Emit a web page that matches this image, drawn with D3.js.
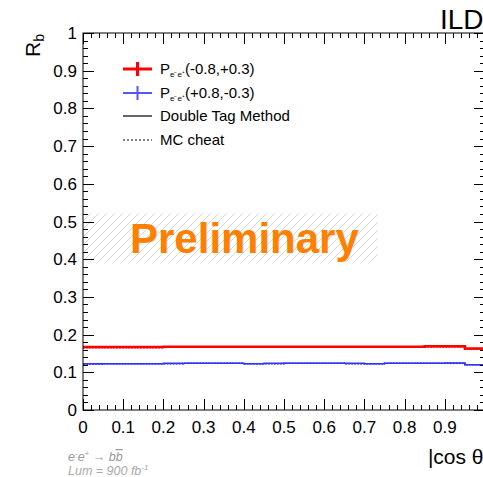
<!DOCTYPE html>
<html>
<head>
<meta charset="utf-8">
<script src="https://cdn.jsdelivr.net/npm/d3@7/dist/d3.min.js"></script>
<style>
  html, body { margin: 0; padding: 0; background: #fff; }
  svg { display: block; font-family: "Liberation Sans", Arial, Helvetica, sans-serif; }
</style>
</head>
<body>
<svg id="chart" width="483" height="477"></svg>
<script>
// Bin edges in |cos theta| (20 bins of width 0.05)
const binEdges = [0,0.05,0.1,0.15,0.2,0.25,0.3,0.35,0.4,0.45,0.5,0.55,0.6,0.65,0.7,0.75,0.8,0.85,0.9,0.95,1.0];

// R_b per bin, P(-0.8,+0.3)
const redDoubleTag = [0.167,0.167,0.167,0.167,0.168,0.168,0.168,0.168,0.168,0.168,0.168,0.168,0.168,0.168,0.168,0.168,0.168,0.169,0.169,0.163];
const redMCCheat   = [0.166,0.166,0.166,0.166,0.167,0.167,0.167,0.167,0.167,0.167,0.167,0.167,0.167,0.167,0.167,0.167,0.167,0.168,0.168,0.162];

// R_b per bin, P(+0.8,-0.3)
const blueDoubleTag = [0.123,0.123,0.123,0.123,0.124,0.124,0.124,0.124,0.123,0.124,0.124,0.124,0.124,0.124,0.123,0.124,0.124,0.124,0.125,0.120];
const blueMCCheat   = [0.122,0.123,0.123,0.123,0.123,0.124,0.124,0.124,0.123,0.123,0.124,0.124,0.124,0.123,0.123,0.124,0.124,0.124,0.124,0.120];

const xMajorTicks = [0,0.1,0.2,0.3,0.4,0.5,0.6,0.7,0.8,0.9];
const yMajorTicks = [0,0.1,0.2,0.3,0.4,0.5,0.6,0.7,0.8,0.9,1];

const legendLabels = ["(-0.8,+0.3)", "(+0.8,-0.3)", "Double Tag Method", "MC cheat"];

// Hatched band behind the "Preliminary" stamp (data coords)
const bandX = [0, 0.734];
const bandY = [0.393, 0.522];

const svg = d3.select("#chart");
const plot = { left: 83, right: 485, top: 33, bottom: 410 };

const x = d3.scaleLinear().domain([0, 1]).range([plot.left, plot.right]);
const y = d3.scaleLinear().domain([0, 1]).range([plot.bottom, plot.top]);

// hatch pattern
const defs = svg.append("defs");
const pat = defs.append("pattern")
  .attr("id", "hatch").attr("patternUnits", "userSpaceOnUse")
  .attr("width", 8).attr("height", 8);
pat.append("path").attr("d", "M-2,2 l4,-4 M0,8 l8,-8 M6,10 l4,-4")
  .attr("stroke", "#d9d9d9").attr("stroke-width", 1);

svg.append("rect")
  .attr("x", x(bandX[0])).attr("y", y(bandY[1]))
  .attr("width", x(bandX[1]) - x(bandX[0]))
  .attr("height", y(bandY[0]) - y(bandY[1]))
  .attr("fill", "url(#hatch)");

svg.append("text")
  .attr("x", 130).attr("y", 253)
  .attr("font-size", 42).attr("font-weight", "bold")
  .attr("fill", "#ff8000")
  .text("Preliminary");

// step histogram line
function stepData(vals) {
  const pts = [];
  vals.forEach((v, i) => { pts.push([binEdges[i], v]); pts.push([binEdges[i + 1], v]); });
  return pts;
}
const line = d3.line().x(d => x(d[0])).y(d => y(d[1]));

function drawHist(vals, color, width, dash) {
  svg.append("path").datum(stepData(vals))
    .attr("d", line).attr("fill", "none")
    .attr("stroke", color).attr("stroke-width", width)
    .attr("stroke-dasharray", dash || null);
}
drawHist(redMCCheat, "#ff0000", 2, "2,1");
drawHist(redDoubleTag, "#ff0000", 2.5);
drawHist(blueMCCheat, "#0000ff", 1.5, "2,1");
drawHist(blueDoubleTag, "#3333ff", 1.5);

// frame
svg.append("rect")
  .attr("x", plot.left).attr("y", plot.top)
  .attr("width", plot.right - plot.left).attr("height", plot.bottom - plot.top)
  .attr("fill", "none").attr("stroke", "#000").attr("stroke-width", 1);

// ticks
const majorLen = 11, minorLen = 5;
const minorX = d3.range(0, 51).map(i => i * 0.02);
const gT = svg.append("g").attr("stroke", "#000").attr("stroke-width", 1);
minorX.forEach((v, i) => {
  const len = (i % 5 === 0) ? majorLen : minorLen;
  const px = Math.round(x(v)) + 0.5;
  gT.append("line").attr("x1", px).attr("x2", px).attr("y1", plot.bottom).attr("y2", plot.bottom - len);
  gT.append("line").attr("x1", px).attr("x2", px).attr("y1", plot.top).attr("y2", plot.top + len);
  const py = Math.round(y(v)) + 0.5;
  gT.append("line").attr("y1", py).attr("y2", py).attr("x1", plot.left).attr("x2", plot.left + len);
  gT.append("line").attr("y1", py).attr("y2", py).attr("x1", plot.right).attr("x2", plot.right - len);
});

// tick labels
svg.append("g").selectAll("text").data(yMajorTicks).join("text")
  .attr("x", 77).attr("y", d => y(d) + 6)
  .attr("text-anchor", "end").attr("font-size", 17).attr("fill", "#000")
  .text(d => d3.format("~g")(d));
svg.append("g").selectAll("text").data(xMajorTicks).join("text")
  .attr("x", d => x(d)).attr("y", 433)
  .attr("text-anchor", "middle").attr("font-size", 17).attr("fill", "#000")
  .text(d => d3.format("~g")(d));

// axis titles
svg.append("text")
  .attr("x", 489).attr("y", 464).attr("text-anchor", "end")
  .attr("font-size", 21).text("|cos θ|");

const yt = svg.append("text")
  .attr("transform", "translate(40,34) rotate(-90)")
  .attr("text-anchor", "end").attr("font-size", 21);
yt.append("tspan").text("R");
yt.append("tspan").attr("font-size", 14).attr("dy", 4).text("b");

svg.append("text").attr("x", 440).attr("y", 29).attr("font-size", 28).text("ILD");

// legend
const lg = svg.append("g");
const lx0 = 123, lx1 = 152, tx = 160;
const rows = [69, 93, 116, 140];
[["#ff0000", 3], ["#5555ff", 2]].forEach(([c, w], i) => {
  const cy = rows[i];
  lg.append("line").attr("x1", lx0).attr("x2", lx1).attr("y1", cy).attr("y2", cy).attr("stroke", c).attr("stroke-width", w);
  lg.append("line").attr("x1", (lx0 + lx1) / 2).attr("x2", (lx0 + lx1) / 2).attr("y1", cy - 7).attr("y2", cy + 7).attr("stroke", c).attr("stroke-width", w);
  const t = lg.append("text").attr("x", tx).attr("y", cy + 5).attr("font-size", 15);
  t.append("tspan").text("P");
  t.append("tspan").attr("font-size", 8).attr("dy", 3).text("e⁻e⁺");
  t.append("tspan").attr("dy", -3).text(legendLabels[i]);
});
lg.append("line").attr("x1", lx0).attr("x2", lx1).attr("y1", rows[2]).attr("y2", rows[2]).attr("stroke", "#333").attr("stroke-width", 1.5);
lg.append("text").attr("x", tx).attr("y", rows[2] + 5).attr("font-size", 15).text(legendLabels[2]);
lg.append("line").attr("x1", lx0).attr("x2", lx1).attr("y1", rows[3]).attr("y2", rows[3]).attr("stroke", "#000").attr("stroke-width", 1).attr("stroke-dasharray", "2,2");
lg.append("text").attr("x", tx).attr("y", rows[3] + 5).attr("font-size", 15).text(legendLabels[3]);

// process / luminosity note
const n1 = svg.append("text").attr("x", 68).attr("y", 461).attr("font-size", 12.5)
  .attr("font-style", "italic").attr("fill", "#999");
n1.append("tspan").text("e");
n1.append("tspan").attr("font-size", 8).attr("dy", -5).text("-");
n1.append("tspan").attr("dy", 5).text("e");
n1.append("tspan").attr("font-size", 8).attr("dy", -5).text("+");
n1.append("tspan").attr("dy", 5).text("  →  b");
n1.append("tspan").style("text-decoration", "overline").text("b");
const n2 = svg.append("text").attr("x", 68).attr("y", 475).attr("font-size", 12.5)
  .attr("font-style", "italic").attr("fill", "#aaa");
n2.append("tspan").text("Lum = 900 fb");
n2.append("tspan").attr("font-size", 8).attr("dy", -5).text("-1");
</script>
</body>
</html>
